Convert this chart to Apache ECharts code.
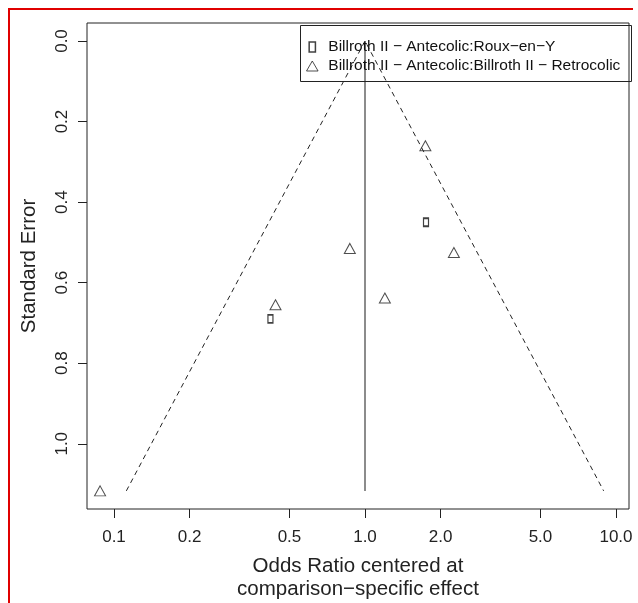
<!DOCTYPE html>
<html>
<head>
<meta charset="utf-8">
<script src="https://cdn.jsdelivr.net/npm/echarts@6/dist/echarts.min.js"></script>
<style>
  html, body { margin: 0; padding: 0; background: #fff; }
  #frame { position: absolute; left: 8px; top: 8px; width: 623px; height: 600px;
           border-left: 2px solid #e00000; border-top: 2px solid #e00000; }
  #main { position: absolute; left: 0; top: 0; width: 638px; height: 603px; }
</style>
</head>
<body>
<div id="frame"></div>
<div id="main"></div>
<script>
// odds ratio (centered) and standard error per study
const seriesNames = ['Billroth II \u2212 Antecolic:Roux\u2212en\u2212Y',
                     'Billroth II \u2212 Antecolic:Billroth II \u2212 Retrocolic'];
const rouxOR = [1.75, 0.42];
const rouxSE = [0.45, 0.69];
const retroOR = [1.74, 2.26, 0.87, 1.20, 0.44, 0.088];
const retroSE = [0.26, 0.525, 0.515, 0.638, 0.655, 1.117];
const xTicks = [0.1, 0.2, 0.5, 1.0, 2.0, 5.0, 10.0];
const yTicks = [0.0, 0.2, 0.4, 0.6, 0.8, 1.0];

const FONT = "'Liberation Sans', Arial, Helvetica, sans-serif";
const lg = v => Math.log10(v);

let maxSE = Math.max(...rouxSE, ...retroSE);
// pseudo 95% limits of the funnel
let funnel = [
  [lg(Math.exp(-1.96 * maxSE)), maxSE],
  [0, 0],
  [lg(Math.exp(1.96 * maxSE)), maxSE]
];

let myChart = echarts.init(document.getElementById('main'), null, { renderer: 'canvas' });
let option = {
  animation: false,
  textStyle: { fontFamily: FONT },
  grid: {
    left: 87, top: 23, width: 542, height: 486,
    containLabel: false, outerBoundsMode: 'none',
    show: true, borderColor: '#222', borderWidth: 1, backgroundColor: 'transparent'
  },
  xAxis: {
    type: 'value',
    min: -1.1076, max: 1.0518,
    splitLine: { show: false },
    axisLine: { show: false, onZero: false },
    axisTick: { show: true, inside: false, length: 9, lineStyle: { color: '#222' },
                customValues: xTicks.map(lg) },
    axisLabel: { color: '#222', fontSize: 17, margin: 20, fontFamily: FONT,
                 customValues: xTicks.map(lg),
                 formatter: v => Math.pow(10, v).toFixed(1) },
    name: 'Odds Ratio centered at\ncomparison\u2212specific effect',
    nameLocation: 'middle', nameGap: 46,
    nameTextStyle: { color: '#222', fontSize: 20.5, lineHeight: 23, fontFamily: FONT }
  },
  yAxis: {
    type: 'value', inverse: true,
    min: -0.0447, max: 1.162,
    splitLine: { show: false },
    axisLine: { show: false, onZero: false },
    axisTick: { show: true, inside: false, length: 9, lineStyle: { color: '#222' },
                customValues: yTicks },
    axisLabel: { color: '#222', fontSize: 17, margin: 16, rotate: 90, fontFamily: FONT,
                 customValues: yTicks, formatter: v => v.toFixed(1) },
    name: 'Standard Error',
    nameLocation: 'middle', nameGap: 47,
    nameTextStyle: { color: '#222', fontSize: 20.5, fontFamily: FONT }
  },
  graphic: [{
    type: 'rect', left: 298, top: 23, z: 10,
    shape: { width: 331, height: 56 },
    style: { fill: 'none', stroke: '#222', lineWidth: 1 }
  }],
  legend: {
    orient: 'vertical', left: 301, top: 34, itemGap: 3,
    itemWidth: 22, itemHeight: 10, symbolKeepAspect: true,
    textStyle: { fontSize: 15.5, color: '#111', fontFamily: FONT },
    data: [
      { name: seriesNames[0], icon: 'path://M0,0 L5,0 L5,8 L0,8 Z',
        itemStyle: { color: '#fff', borderColor: '#111', borderWidth: 1.5 } },
      { name: seriesNames[1], icon: 'path://M5.5,0 L11,9.5 L0,9.5 Z',
        itemStyle: { color: '#fff', borderColor: '#222', borderWidth: 1 } }
    ]
  },
  series: [
    {
      type: 'line', data: funnel, symbol: 'none', silent: true,
      lineStyle: { color: '#222', width: 1, type: [5, 4] }
    },
    {
      type: 'line', data: [[0, 0], [0, maxSE]], symbol: 'none', silent: true,
      lineStyle: { color: '#666', width: 1.5 }
    },
    {
      name: seriesNames[0], type: 'scatter',
      symbol: 'rect', symbolSize: [5, 8],
      itemStyle: { color: '#fff', borderColor: '#111', borderWidth: 1.5 },
      data: rouxOR.map((v, i) => [lg(v), rouxSE[i]])
    },
    {
      name: seriesNames[1], type: 'scatter',
      symbol: 'triangle', symbolSize: [11, 10],
      itemStyle: { color: 'rgba(0,0,0,0)', borderColor: '#222', borderWidth: 1 },
      data: retroOR.map((v, i) => [lg(v), retroSE[i]])
    }
  ]
};
myChart.setOption(option);
</script>
</body>
</html>
